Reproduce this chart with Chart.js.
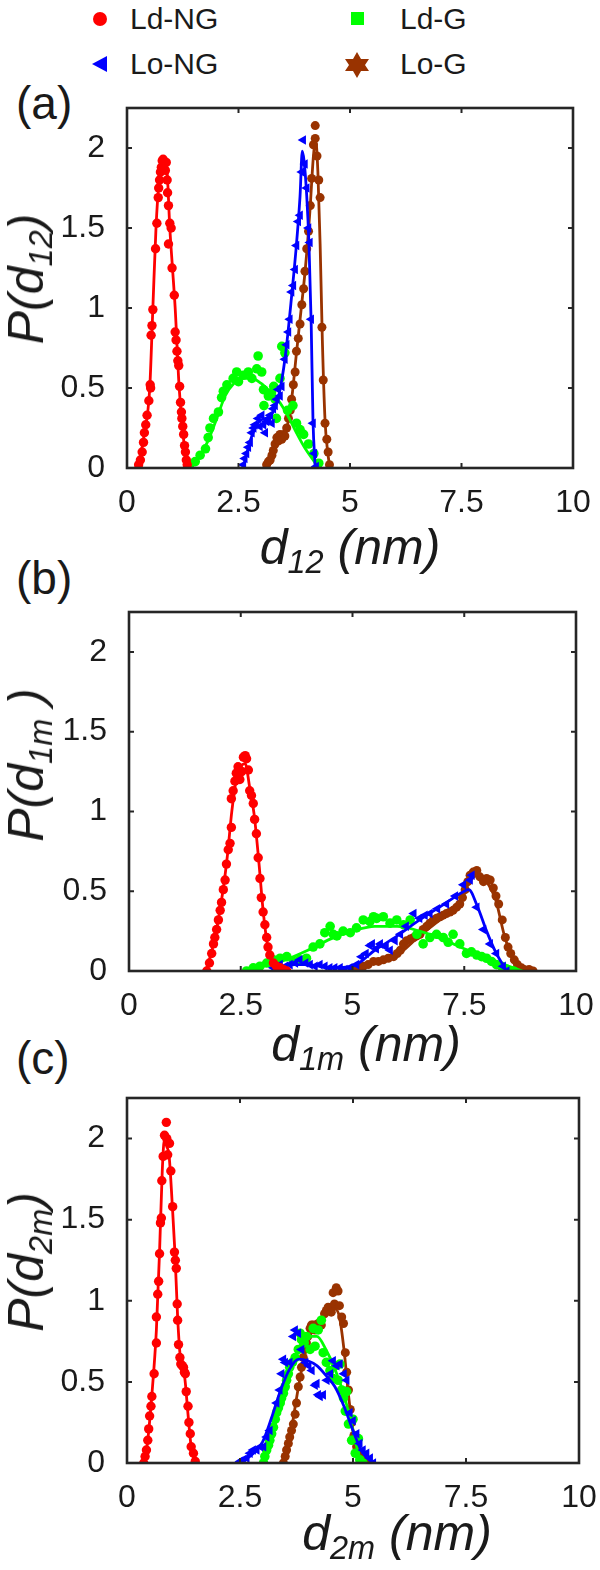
<!DOCTYPE html>
<html><head><meta charset="utf-8">
<script src="https://cdn.jsdelivr.net/npm/chart.js@4/dist/chart.umd.min.js"></script>
<style>
body{margin:0;width:600px;height:1570px;background:#fff;position:relative;overflow:hidden;font-family:"Liberation Sans",Arial,sans-serif;color:#1a1a1a}
.abs{position:absolute;white-space:nowrap;line-height:1}
canvas{position:absolute;left:0}
.leg{font-size:30px}
.plab{font-size:46px}
.xt{font-size:50px;font-style:italic}
.yt{font-size:50px;font-style:italic;transform:translate(-50%,-50%) rotate(-90deg)}
sub{font-size:0.65em;vertical-align:baseline;position:relative;top:0.28em}
</style></head>
<body>
<svg class="abs" style="left:0;top:0" width="600" height="100">
  <circle cx="100" cy="19" r="7" fill="#ff0000"/>
  <rect x="351" y="12" width="13" height="13" fill="#00ff00"/>
  <polygon points="92,64 107,56 107,72" fill="#0000ff"/>
  <polygon points="357,52 361,59 369,59 365,65 369,71 361,71 357,78 353,71 345,71 349,65 345,59 353,59" fill="#993300"/>
</svg>
<div class="abs leg" style="left:130px;top:4px">Ld-NG</div>
<div class="abs leg" style="left:400px;top:4px">Ld-G</div>
<div class="abs leg" style="left:130px;top:49px">Lo-NG</div>
<div class="abs leg" style="left:400px;top:49px">Lo-G</div>

<div class="abs plab" style="left:16px;top:80px">(a)</div>
<div class="abs plab" style="left:16px;top:555px">(b)</div>
<div class="abs plab" style="left:16px;top:1035px">(c)</div>

<canvas id="ca" width="600" height="430" style="top:90px"></canvas>
<canvas id="cb" width="600" height="430" style="top:595px"></canvas>
<canvas id="cc" width="600" height="435" style="top:1080px"></canvas>

<div class="abs xt" style="left:350px;top:522px;transform:translateX(-50%)">d<sub>12</sub> (nm)</div>
<div class="abs xt" style="left:366px;top:1019px;transform:translateX(-50%)">d<sub>1m</sub> (nm)</div>
<div class="abs xt" style="left:397px;top:1508px;transform:translateX(-50%)">d<sub>2m</sub> (nm)</div>

<div class="abs yt" style="left:26px;top:279px">P(d<sub>12</sub>)</div>
<div class="abs yt" style="left:26px;top:765px">P(d<sub>1m</sub> )</div>
<div class="abs yt" style="left:26px;top:1262px">P(d<sub>2m</sub>)</div>

<script>
// ---------- tick values / labels ----------
const xTickVals = [0, 2.5, 5, 7.5, 10];
const xTickLabels = ['0', '2.5', '5', '7.5', '10'];
const yTickVals = [0, 0.5, 1, 1.5, 2];
const yTickLabels = ['0', '0.5', '1', '1.5', '2'];
const seriesNames = ['Ld-NG', 'Lo-NG', 'Ld-G', 'Lo-G'];

// ---------- panel (a): d12 ----------
const a_LdNG_pts = [[0.26,0.02],[0.30,0.05],[0.34,0.10],[0.37,0.16],[0.39,0.22],[0.42,0.27],[0.45,0.33],[0.49,0.42],[0.52,0.52],[0.53,0.50],[0.54,0.83],[0.56,0.89],[0.58,0.99],[0.64,1.37],[0.67,1.53],[0.70,1.69],[0.71,1.75],[0.73,1.80],[0.75,1.85],[0.77,1.88],[0.79,1.92],[0.81,1.93],[0.84,1.91],[0.86,1.86],[0.88,1.91],[0.90,1.80],[0.91,1.72],[0.93,1.64],[0.93,1.40],[0.96,1.53],[0.99,1.50],[1.01,1.25],[1.06,1.08],[1.08,0.85],[1.10,0.80],[1.12,0.73],[1.14,0.67],[1.16,0.64],[1.18,0.51],[1.20,0.41],[1.22,0.35],[1.23,0.31],[1.25,0.26],[1.27,0.21],[1.29,0.14],[1.31,0.10],[1.33,0.05],[1.35,0.02]];
const a_LdNG_fit = [[0.25,0],[0.38,0.2],[0.51,0.5],[0.58,1.0],[0.65,1.5],[0.72,1.8],[0.78,1.92],[0.84,1.94],[0.90,1.85],[0.96,1.5],[1.02,1.25],[1.08,1.0],[1.17,0.5],[1.26,0.2],[1.36,0]];
const a_LoNG_pts = [[2.61,0.02],[2.64,0.06],[2.68,0.09],[2.72,0.13],[2.76,0.16],[2.80,0.22],[2.84,0.25],[2.87,0.27],[2.94,0.31],[2.98,0.26],[3.02,0.33],[3.06,0.27],[3.10,0.22],[3.13,0.29],[3.17,0.31],[3.21,0.33],[3.25,0.28],[3.28,0.37],[3.32,0.39],[3.36,0.43],[3.39,0.49],[3.43,0.45],[3.47,0.51],[3.54,0.68],[3.58,0.77],[3.62,0.85],[3.65,0.93],[3.69,1.10],[3.73,1.14],[3.77,1.24],[3.80,1.39],[3.84,1.54],[3.88,1.58],[3.92,1.85],[3.95,2.05],[3.99,1.90],[4.03,1.75],[4.07,1.50],[4.10,1.41],[4.13,0.93],[4.17,0.28],[4.20,0.09],[4.24,0.01]];
const a_LoNG_fit = [[2.6,0],[2.8,0.2],[3.0,0.3],[3.2,0.32],[3.4,0.45],[3.55,0.7],[3.7,1.1],[3.8,1.4],[3.88,1.7],[3.93,1.98],[3.97,1.92],[4.03,1.7],[4.08,1.4],[4.13,0.9],[4.17,0.3],[4.22,0]];
const a_LdG_pts = [[1.41,0.02],[1.53,0.04],[1.64,0.08],[1.76,0.12],[1.82,0.19],[1.86,0.25],[1.94,0.31],[2.05,0.35],[2.12,0.44],[2.16,0.48],[2.24,0.52],[2.38,0.56],[2.46,0.60],[2.50,0.54],[2.61,0.58],[2.72,0.60],[2.80,0.56],[2.91,0.62],[2.94,0.70],[3.02,0.60],[3.06,0.49],[3.07,0.39],[3.17,0.45],[3.24,0.47],[3.29,0.51],[3.32,0.43],[3.35,0.31],[3.43,0.56],[3.47,0.76],[3.54,0.72],[3.60,0.36],[3.72,0.39],[3.80,0.28],[3.88,0.24],[3.96,0.21],[4.07,0.15],[4.19,0.09],[4.30,0.03]];
const a_LdG_fit = [[1.40,0],[1.6,0.06],[1.8,0.16],[2.0,0.3],[2.2,0.45],[2.4,0.53],[2.6,0.56],[2.8,0.56],[3.0,0.53],[3.2,0.48],[3.4,0.42],[3.6,0.33],[3.8,0.22],[4.0,0.12],[4.2,0.04],[4.3,0]];
const a_LoG_pts = [[3.13,0.02],[3.17,0.04],[3.21,0.05],[3.25,0.08],[3.28,0.11],[3.32,0.15],[3.36,0.19],[3.40,0.17],[3.43,0.21],[3.47,0.18],[3.51,0.21],[3.54,0.20],[3.58,0.25],[3.62,0.31],[3.66,0.36],[3.69,0.43],[3.73,0.52],[3.77,0.60],[3.80,0.73],[3.84,0.81],[3.88,0.90],[3.92,1.02],[3.96,1.12],[3.99,1.23],[4.03,1.37],[4.07,1.48],[4.11,1.64],[4.14,1.81],[4.18,2.02],[4.22,2.14],[4.22,2.06],[4.26,1.95],[4.30,1.80],[4.33,1.69],[4.37,0.88],[4.40,0.55],[4.44,0.28],[4.48,0.18],[4.51,0.10],[4.54,0.02]];
const a_LoG_fit = [[3.12,0],[3.3,0.12],[3.5,0.2],[3.6,0.27],[3.7,0.45],[3.8,0.72],[3.9,0.98],[4.0,1.25],[4.1,1.6],[4.18,1.95],[4.23,2.05],[4.28,1.85],[4.33,1.4],[4.38,0.8],[4.44,0.3],[4.5,0.1],[4.55,0]];

// ---------- panel (b): d1m ----------
const b_LdNG_pts = [[1.74,0.0],[1.80,0.05],[1.85,0.11],[1.89,0.17],[1.92,0.21],[1.96,0.26],[2.00,0.32],[2.04,0.38],[2.07,0.43],[2.11,0.51],[2.15,0.57],[2.18,0.67],[2.22,0.76],[2.26,0.80],[2.29,0.90],[2.29,1.08],[2.33,1.13],[2.37,1.19],[2.40,1.24],[2.44,1.28],[2.48,1.20],[2.52,1.25],[2.56,1.34],[2.60,1.35],[2.63,1.33],[2.67,1.26],[2.70,1.13],[2.74,1.10],[2.78,1.05],[2.81,0.95],[2.85,0.86],[2.89,0.71],[2.93,0.58],[2.96,0.46],[3.00,0.37],[3.04,0.29],[3.08,0.21],[3.11,0.15],[3.15,0.10],[3.23,0.05],[3.30,0.03],[3.38,0.02],[3.45,0.01],[3.53,0.0]];
const b_LdNG_fit = [[1.72,0],[1.9,0.18],[2.1,0.5],[2.2,0.72],[2.3,1.0],[2.4,1.2],[2.5,1.28],[2.6,1.3],[2.7,1.15],[2.8,0.98],[2.9,0.7],[3.0,0.38],[3.1,0.16],[3.2,0.06],[3.4,0.01],[3.55,0]];
const b_LoNG_pts = [[3.23,0.02],[3.38,0.04],[3.50,0.03],[3.60,0.04],[3.72,0.05],[3.82,0.07],[3.95,0.05],[4.05,0.04],[4.16,0.03],[4.27,0.04],[4.38,0.03],[4.49,0.02],[4.60,0.02],[4.72,0.02],[4.83,0.01],[4.94,0.02],[5.09,0.04],[5.20,0.09],[5.30,0.11],[5.39,0.16],[5.44,0.17],[5.53,0.14],[5.62,0.17],[5.75,0.15],[5.84,0.13],[5.95,0.19],[6.07,0.23],[6.20,0.28],[6.37,0.36],[6.50,0.33],[6.62,0.35],[6.73,0.36],[6.90,0.39],[7.10,0.42],[7.30,0.47],[7.48,0.54],[7.63,0.57],[7.67,0.60],[7.78,0.40],[7.93,0.26],[8.08,0.17],[8.22,0.11],[8.37,0.03],[8.45,0.0]];
const b_LoNG_fit = [[3.2,0],[3.6,0.04],[4.0,0.04],[4.5,0.02],[5.0,0.03],[5.5,0.13],[6.0,0.22],[6.5,0.32],[7.0,0.41],[7.5,0.5],[7.6,0.51],[7.8,0.4],[8.0,0.25],[8.2,0.12],[8.45,0]];
const b_LdG_pts = [[2.63,0.0],[2.78,0.02],[2.93,0.03],[3.08,0.05],[3.23,0.07],[3.38,0.08],[3.53,0.09],[3.68,0.06],[3.82,0.07],[3.97,0.08],[4.12,0.15],[4.27,0.17],[4.38,0.24],[4.50,0.28],[4.57,0.23],[4.65,0.22],[4.79,0.25],[4.95,0.24],[5.09,0.27],[5.24,0.32],[5.39,0.31],[5.47,0.34],[5.54,0.33],[5.69,0.34],[5.84,0.30],[5.99,0.32],[6.14,0.29],[6.29,0.32],[6.44,0.23],[6.58,0.17],[6.73,0.21],[6.88,0.23],[7.03,0.21],[7.14,0.18],[7.25,0.23],[7.40,0.17],[7.55,0.11],[7.66,0.12],[7.78,0.10],[7.89,0.09],[8.00,0.08],[8.11,0.06],[8.22,0.04],[8.33,0.03],[8.45,0.01],[8.60,0.0]];
const b_LdG_fit = [[2.6,0],[3.0,0.03],[3.5,0.07],[4.0,0.13],[4.5,0.2],[5.0,0.25],[5.5,0.28],[6.0,0.28],[6.5,0.25],[7.0,0.2],[7.5,0.14],[8.0,0.08],[8.5,0.03],[8.8,0]];
const b_LoG_pts = [[5.02,0.0],[5.13,0.02],[5.24,0.03],[5.35,0.04],[5.47,0.06],[5.58,0.06],[5.69,0.07],[5.80,0.08],[5.92,0.09],[6.00,0.11],[6.07,0.13],[6.14,0.17],[6.21,0.19],[6.29,0.20],[6.37,0.21],[6.44,0.22],[6.51,0.23],[6.58,0.26],[6.66,0.28],[6.73,0.30],[6.81,0.32],[6.88,0.33],[6.96,0.34],[7.03,0.35],[7.10,0.36],[7.18,0.37],[7.25,0.38],[7.33,0.40],[7.40,0.42],[7.46,0.46],[7.52,0.51],[7.58,0.56],[7.63,0.60],[7.70,0.62],[7.78,0.63],[7.85,0.59],[7.93,0.56],[8.00,0.58],[8.08,0.57],[8.15,0.52],[8.21,0.47],[8.27,0.42],[8.35,0.32],[8.42,0.21],[8.48,0.15],[8.54,0.11],[8.62,0.07],[8.69,0.04],[8.78,0.02],[8.84,0.01],[8.95,0.01],[9.04,0.0]];
const b_LoG_fit = [[5.0,0],[5.5,0.05],[6.0,0.1],[6.5,0.22],[7.0,0.33],[7.4,0.42],[7.6,0.55],[7.8,0.6],[8.0,0.56],[8.2,0.45],[8.4,0.22],[8.6,0.07],[8.8,0.02],[9.05,0]];

// ---------- panel (c): d2m ----------
const c_LdNG_pts = [[0.37,0.0],[0.40,0.04],[0.43,0.08],[0.46,0.14],[0.48,0.21],[0.50,0.29],[0.53,0.35],[0.55,0.41],[0.60,0.55],[0.65,0.74],[0.65,0.90],[0.68,1.04],[0.70,1.12],[0.72,1.29],[0.74,1.48],[0.76,1.51],[0.77,1.74],[0.80,1.89],[0.83,2.02],[0.87,2.10],[0.88,2.00],[0.90,1.90],[0.94,1.97],[0.97,1.80],[1.01,1.58],[1.05,1.30],[1.07,1.25],[1.09,1.20],[1.11,0.98],[1.12,0.88],[1.14,0.73],[1.17,0.65],[1.19,0.61],[1.22,0.60],[1.25,0.59],[1.27,0.56],[1.29,0.55],[1.31,0.44],[1.35,0.35],[1.37,0.25],[1.40,0.18],[1.42,0.10],[1.47,0.06],[1.51,0.01]];
const c_LdNG_fit = [[0.36,0],[0.45,0.12],[0.55,0.42],[0.65,0.82],[0.72,1.3],[0.78,1.8],[0.83,2.0],[0.88,1.95],[0.93,1.9],[1.0,1.6],[1.06,1.3],[1.12,0.9],[1.18,0.65],[1.28,0.52],[1.35,0.3],[1.42,0.1],[1.5,0.01],[1.52,0]];
const c_LoNG_pts = [[2.50,0.01],[2.57,0.02],[2.65,0.03],[2.72,0.06],[2.79,0.08],[2.87,0.08],[2.95,0.10],[3.02,0.10],[3.09,0.16],[3.16,0.20],[3.31,0.37],[3.38,0.45],[3.42,0.55],[3.46,0.64],[3.50,0.62],[3.60,0.62],[3.68,0.78],[3.72,0.82],[3.79,0.80],[3.86,0.70],[3.95,0.62],[4.02,0.60],[4.09,0.57],[4.16,0.48],[4.20,0.49],[4.23,0.42],[4.27,0.41],[4.34,0.42],[4.42,0.51],[4.50,0.55],[4.56,0.63],[4.64,0.60],[4.71,0.61],[4.80,0.55],[4.86,0.51],[4.93,0.31],[5.00,0.26],[5.08,0.18],[5.15,0.12],[5.22,0.08],[5.30,0.06],[5.38,0.03],[5.45,0.0]];
const c_LoNG_fit = [[2.5,0],[2.8,0.06],[3.0,0.13],[3.2,0.28],[3.4,0.45],[3.6,0.58],[3.8,0.64],[4.0,0.63],[4.2,0.6],[4.4,0.54],[4.6,0.47],[4.8,0.35],[5.0,0.2],[5.2,0.07],[5.4,0.01],[5.5,0]];
const c_LdG_pts = [[3.02,0.0],[3.05,0.04],[3.09,0.08],[3.13,0.11],[3.16,0.14],[3.20,0.18],[3.24,0.22],[3.28,0.27],[3.31,0.31],[3.35,0.34],[3.39,0.37],[3.42,0.40],[3.46,0.43],[3.50,0.47],[3.53,0.51],[3.57,0.55],[3.60,0.59],[3.66,0.62],[3.72,0.65],[3.79,0.70],[3.83,0.80],[3.86,0.76],[3.92,0.74],[3.97,0.78],[4.05,0.70],[4.12,0.83],[4.16,0.72],[4.23,0.82],[4.30,0.88],[4.34,0.68],[4.41,0.62],[4.49,0.57],[4.56,0.52],[4.62,0.60],[4.67,0.51],[4.71,0.61],[4.75,0.45],[4.79,0.40],[4.83,0.32],[4.86,0.44],[4.90,0.24],[4.97,0.14],[5.00,0.27],[5.05,0.06],[5.12,0.15],[5.15,0.02],[5.22,0.0]];
const c_LdG_fit = [[3.0,0],[3.2,0.16],[3.4,0.36],[3.6,0.56],[3.8,0.71],[4.0,0.78],[4.2,0.78],[4.4,0.7],[4.6,0.58],[4.8,0.42],[5.0,0.2],[5.1,0.08],[5.2,0]];
const c_LoG_pts = [[3.46,0.0],[3.50,0.04],[3.53,0.08],[3.57,0.12],[3.60,0.16],[3.64,0.20],[3.68,0.24],[3.72,0.30],[3.75,0.37],[3.79,0.47],[3.83,0.53],[3.86,0.59],[3.90,0.65],[3.93,0.70],[3.97,0.74],[4.00,0.78],[4.05,0.83],[4.08,0.85],[4.12,0.85],[4.16,0.82],[4.19,0.84],[4.23,0.86],[4.26,0.86],[4.30,0.85],[4.37,0.92],[4.41,0.94],[4.45,0.96],[4.52,0.93],[4.56,1.05],[4.59,0.98],[4.63,1.08],[4.67,1.06],[4.70,0.97],[4.75,0.90],[4.79,0.86],[4.83,0.68],[4.86,0.56],[4.90,0.45],[4.94,0.33],[4.97,0.25],[5.02,0.17],[5.08,0.10],[5.15,0.05],[5.22,0.02],[5.30,0.0]];
const c_LoG_fit = [[3.45,0],[3.6,0.15],[3.8,0.48],[4.0,0.75],[4.2,0.85],[4.4,0.92],[4.6,0.95],[4.7,0.9],[4.8,0.7],[4.9,0.42],[5.0,0.2],[5.1,0.08],[5.3,0]];

// ---------- styling ----------
const COL = {LdNG:'#ff0000', LoNG:'#0000ff', LdG:'#00ff00', LoG:'#993300'};
const AXC = '#262626';
const FONT = '"Liberation Sans", Arial, sans-serif';

function toXY(arr){ return arr.map(p => ({x:p[0], y:p[1]})); }

function sets(pts, fit, color, style, radius, rot){
  return [
    {data: toXY(fit), showLine:true, borderColor:color, borderWidth:2.8, pointRadius:0, tension:0.35, cubicInterpolationMode:'monotone', fill:false},
    {data: toXY(pts), showLine:false, pointStyle:style, pointRadius:radius, pointRotation:rot||0, backgroundColor:color, borderColor:color, borderWidth:0}
  ];
}

const boxPlugin = {
  id:'box',
  afterDraw(chart){
    const {ctx, chartArea:a, scales} = chart;
    ctx.save();
    ctx.strokeStyle = AXC; ctx.lineWidth = 2.6;
    ctx.strokeRect(a.left, a.top, a.right - a.left, a.bottom - a.top);
    ctx.lineWidth = 2;
    const t = 5;
    ctx.beginPath();
    xTickVals.forEach(v => {
      const px = scales.x.getPixelForValue(v);
      ctx.moveTo(px, a.bottom); ctx.lineTo(px, a.bottom - t);
      ctx.moveTo(px, a.top); ctx.lineTo(px, a.top + t);
    });
    yTickVals.forEach(v => {
      const py = scales.y.getPixelForValue(v);
      ctx.moveTo(a.left, py); ctx.lineTo(a.left + t, py);
      ctx.moveTo(a.right, py); ctx.lineTo(a.right - t, py);
    });
    ctx.stroke();
    ctx.restore();
  }
};

function makeChart(id, panel, leftW, padTop, padRight, xH){
  const ds = [].concat(
    sets(panel.LdNG[0], panel.LdNG[1], COL.LdNG, 'circle', 4.7),
    sets(panel.LoNG[0], panel.LoNG[1], COL.LoNG, 'triangle', 5.5, -90),
    sets(panel.LdG[0], panel.LdG[1], COL.LdG, 'circle', 4.8),
    sets(panel.LoG[0], panel.LoG[1], COL.LoG, 'circle', 4.5)
  );
  return new Chart(document.getElementById(id), {
    type:'scatter',
    data:{datasets: ds},
    options:{
      responsive:false, animation:false, devicePixelRatio:1,
      layout:{padding:{top:padTop, right:padRight, left:0, bottom:0}},
      plugins:{legend:{display:false}, tooltip:{enabled:false}},
      scales:{
        x:{type:'linear', min:0, max:10,
           afterBuildTicks: s => { s.ticks = xTickVals.map(v => ({value:v})); },
           afterFit: s => { s.height = xH; s.paddingLeft = 0; s.paddingRight = 0; },
           grid:{display:false}, border:{display:false},
           ticks:{font:{family:FONT, size:32}, color:'#1a1a1a', padding:8, maxRotation:0,
                  callback:(v) => xTickLabels[xTickVals.indexOf(v)]}},
        y:{type:'linear', min:0, max:2.25,
           afterBuildTicks: s => { s.ticks = yTickVals.map(v => ({value:v})); },
           afterFit: s => { s.width = leftW; s.paddingTop = 0; s.paddingBottom = 0; },
           grid:{display:false}, border:{display:false},
           ticks:{font:{family:FONT, size:32}, color:'#1a1a1a', padding:14,
                  callback:(v) => yTickLabels[yTickVals.indexOf(v)]}}
      }
    },
    plugins:[boxPlugin]
  });
}

makeChart('ca', {LdNG:[a_LdNG_pts,a_LdNG_fit], LoNG:[a_LoNG_pts,a_LoNG_fit], LdG:[a_LdG_pts,a_LdG_fit], LoG:[a_LoG_pts,a_LoG_fit]}, 127, 18, 27, 52);
makeChart('cb', {LdNG:[b_LdNG_pts,b_LdNG_fit], LoNG:[b_LoNG_pts,b_LoNG_fit], LdG:[b_LdG_pts,b_LdG_fit], LoG:[b_LoG_pts,b_LoG_fit]}, 129, 17, 24, 54);
makeChart('cc', {LdNG:[c_LdNG_pts,c_LdNG_fit], LoNG:[c_LoNG_pts,c_LoNG_fit], LdG:[c_LdG_pts,c_LdG_fit], LoG:[c_LoG_pts,c_LoG_fit]}, 127, 18, 21, 52);
</script>
</body></html>
